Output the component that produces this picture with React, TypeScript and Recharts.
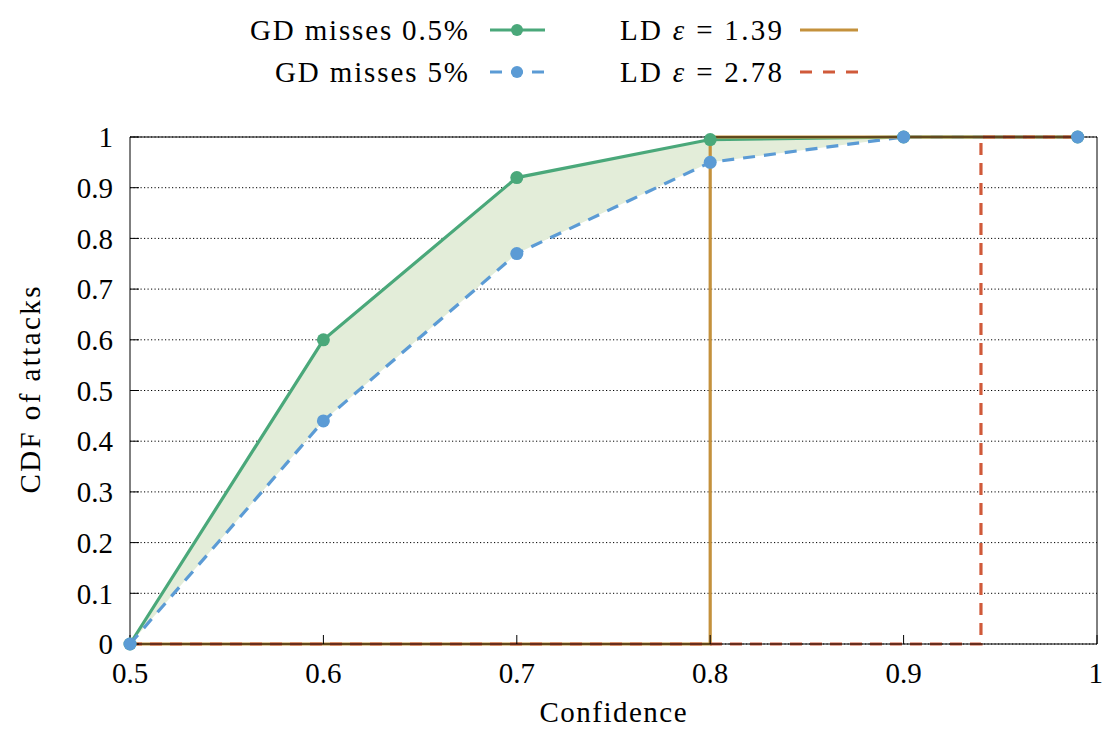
import { ComposedChart, Line, Area, XAxis, YAxis, CartesianGrid } from 'recharts'

const confidence = [0.5, 0.6, 0.7, 0.8, 0.9, 0.99]
const gdMisses05 = [0, 0.6, 0.92, 0.995, 1, 1]
const gdMisses5 = [0, 0.44, 0.77, 0.95, 1, 1]

const ld139X = [0.5, 0.8, 0.99]
const ld139Y = [0, 1, 1]
const ld278X = [0.5, 0.94, 0.99]
const ld278Y = [0, 1, 1]

const xTicks = [0.5, 0.6, 0.7, 0.8, 0.9, 1]
const yTicks = [0, 0.1, 0.2, 0.3, 0.4, 0.5, 0.6, 0.7, 0.8, 0.9, 1]

const GREEN = '#4aa87a'
const BLUE = '#5b9bd5'
const ORANGE = '#c4913c'
const RED = '#d05a3a'
const BAND = '#e3edd9'
const FONT = "'Liberation Serif', 'Times New Roman', Times, serif"

const gdData = confidence.map((x, i) => ({
  x,
  hi: gdMisses05[i],
  lo: gdMisses5[i],
  band: [gdMisses5[i], gdMisses05[i]]
}))
const ld139 = ld139X.map((x, i) => ({ x, y: ld139Y[i] }))
const ld278 = ld278X.map((x, i) => ({ x, y: ld278Y[i] }))

const fmt = (v: number) => (v === 0 || v === 1 ? String(v) : v.toFixed(1))
const tickStyle = { fill: '#000', fontSize: 29, fontFamily: FONT }

function Overlay() {
  return (
    <svg
      width={1103}
      height={729}
      style={{ position: 'absolute', left: 0, top: 0, pointerEvents: 'none' }}
    >
      <g fontSize={29} fill="#000" fontFamily={FONT}>
        <text x={468} y={40} textAnchor="end" textLength={218} lengthAdjust="spacing">
          GD misses 0.5%
        </text>
        <line x1={490} x2={545} y1={30} y2={30} stroke={GREEN} strokeWidth={3.2} />
        <circle cx={517} cy={30} r={6} fill={GREEN} />

        <text x={468} y={82} textAnchor="end" textLength={193} lengthAdjust="spacing">
          GD misses 5%
        </text>
        <line x1={490} x2={545} y1={72} y2={72} stroke={BLUE} strokeWidth={3.2} strokeDasharray="12 9" />
        <circle cx={517} cy={72} r={6} fill={BLUE} />

        <text x={620} y={40} textLength={162} lengthAdjust="spacing">
          LD <tspan fontStyle="italic">ε</tspan> = 1.39
        </text>
        <line x1={800} x2={858} y1={30} y2={30} stroke={ORANGE} strokeWidth={3.2} />

        <text x={620} y={82} textLength={162} lengthAdjust="spacing">
          LD <tspan fontStyle="italic">ε</tspan> = 2.78
        </text>
        <line x1={800} x2={858} y1={72} y2={72} stroke={RED} strokeWidth={3.2} strokeDasharray="12 11" />

        <text x={613} y={722} textAnchor="middle" textLength={147} lengthAdjust="spacing">
          Confidence
        </text>
        <text
          x={0}
          y={0}
          textAnchor="middle"
          textLength={207}
          lengthAdjust="spacing"
          transform="translate(40 390) rotate(-90)"
        >
          CDF of attacks
        </text>
      </g>
    </svg>
  )
}

export default function App() {
  return (
    <div style={{ position: 'absolute', left: 0, top: 0, width: 1103, height: 729, background: '#fff' }}>
      <ComposedChart
        width={1103}
        height={729}
        data={gdData}
        margin={{ top: 136, right: 5, bottom: 84, left: 129 }}
        style={{ fontFamily: FONT }}
      >
        <CartesianGrid
          horizontal
          vertical={false}
          stroke="#000"
          strokeDasharray="1.2 2.3"
          strokeWidth={1}
        />
        <XAxis
          dataKey="x"
          type="number"
          domain={[0.5, 1]}
          ticks={xTicks}
          tickFormatter={fmt}
          height={1}
          tickSize={-9}
          tickMargin={27}
          stroke="#000"
          tick={tickStyle}
        />
        <XAxis
          xAxisId="top"
          orientation="top"
          dataKey="x"
          type="number"
          domain={[0.5, 1]}
          ticks={xTicks}
          height={1}
          tickSize={-9}
          stroke="#000"
          tick={false}
        />
        <YAxis
          type="number"
          domain={[0, 1]}
          ticks={yTicks}
          tickFormatter={fmt}
          width={1}
          tickSize={-9}
          tickMargin={26}
          stroke="#000"
          tick={tickStyle}
        />
        <YAxis
          yAxisId="right"
          orientation="right"
          type="number"
          domain={[0, 1]}
          ticks={yTicks}
          width={1}
          tickSize={-9}
          stroke="#000"
          tick={false}
        />
        <Area
          dataKey="band"
          type="linear"
          fill={BAND}
          fillOpacity={1}
          stroke="none"
          isAnimationActive={false}
        />
        <Line
          dataKey="hi"
          type="linear"
          stroke={GREEN}
          strokeWidth={3.2}
          dot={{ r: 6.5, fill: GREEN, stroke: 'none' }}
          activeDot={false}
          isAnimationActive={false}
        />
        <Line
          dataKey="lo"
          type="linear"
          stroke={BLUE}
          strokeWidth={3.2}
          strokeDasharray="12 9"
          dot={{ r: 6.5, fill: BLUE, stroke: 'none', strokeDasharray: '' }}
          activeDot={false}
          isAnimationActive={false}
        />
        <Line
          data={ld139}
          dataKey="y"
          type="stepAfter"
          stroke={ORANGE}
          strokeWidth={3.2}
          dot={false}
          activeDot={false}
          isAnimationActive={false}
        />
        <Line
          data={ld278}
          dataKey="y"
          type="stepAfter"
          stroke={RED}
          strokeWidth={3.2}
          strokeDasharray="12 8"
          dot={false}
          activeDot={false}
          isAnimationActive={false}
        />
      </ComposedChart>
      <Overlay />
    </div>
  )
}
